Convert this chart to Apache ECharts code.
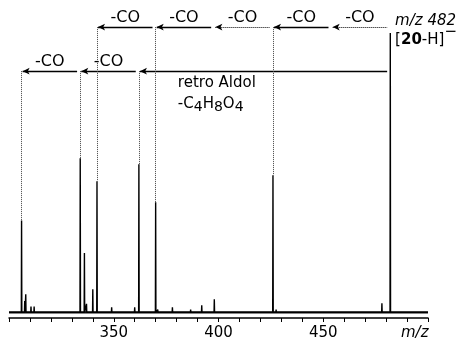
<!DOCTYPE html>
<html>
<head>
<meta charset="utf-8">
<script src="https://cdn.jsdelivr.net/npm/echarts@6/dist/echarts.min.js"></script>
<style>
  html, body { margin: 0; padding: 0; background: #fff; }
  #chart { width: 463px; height: 343px; }
</style>
</head>
<body>
<div id="chart"></div>
<script>
// m/z range and labelled ticks
const mzRange = [300, 500];
const xTickLabels = [350, 400, 450];

// main fragment peaks (relative intensity)
const peakMz = [306, 334, 336, 340, 342, 362, 370, 426, 482];
const peakInt = [32.6, 54.6, 21.0, 8.2, 46.5, 52.5, 39.0, 48.6, 99.0];

// small peaks along the baseline
const minorMz = [307.5, 308, 310.5, 312, 337, 349, 360, 371, 378, 386.7, 392, 398, 427.5, 478];
const minorInt = [4.0, 6.4, 2.1, 2.1, 3.0, 1.8, 1.8, 1.0, 1.8, 1.0, 2.5, 4.6, 1.0, 3.2];

// loss pathways: successive m/z joined by arrows
const coPath = [482, 454, 426, 398, 370, 342];
const coPathDotted = [true, false, true, false, false];
const coPathDrops = [426, 370, 342];
const aldolPath = [482, 362, 334, 306];
const aldolPathLabels = ['', '-CO', '-CO'];
const aldolPathDrops = [362, 334, 306];

const FONT = '"DejaVu Sans", sans-serif';
const row1 = 101.1;
const row2 = 85.5;

const intAt = m => peakInt[peakMz.indexOf(m)];

// stick spectrum built as one polyline
const sticks = peakMz.map((m, i) => [m, peakInt[i]])
  .concat(minorMz.map((m, i) => [m, minorInt[i]]))
  .sort((a, b) => a[0] - b[0]);
const spectrum = [[mzRange[0], 0]];
sticks.forEach(([m, h]) => {
  spectrum.push([m - 0.12, 0], [m, h], [m + 0.12, 0]);
});
spectrum.push([mzRange[1], 0]);

function arrow(from, to, level, dotted, label) {
  return [
    {
      coord: [to + 0.5, level],
      symbol: 'arrow',
      lineStyle: { type: dotted ? 'dotted' : 'solid', width: dotted ? 1 : 1.3 },
      label: { show: !!label, formatter: label || '' }
    },
    { coord: [from - 1.5, level], symbol: 'none' }
  ];
}

function drop(m, level) {
  return [
    { coord: [m, level], symbol: 'none', lineStyle: { type: 'dotted', width: 1, color: '#444' }, label: { show: false } },
    { coord: [m, intAt(m)], symbol: 'none' }
  ];
}

const markLines = [];
for (let i = 0; i < coPath.length - 1; i++) {
  markLines.push(arrow(coPath[i], coPath[i + 1], row1, coPathDotted[i], '-CO'));
}
for (let i = 0; i < aldolPath.length - 1; i++) {
  markLines.push(arrow(aldolPath[i], aldolPath[i + 1], row2, false, aldolPathLabels[i]));
}
coPathDrops.forEach(m => markLines.push(drop(m, row1)));
aldolPathDrops.forEach(m => markLines.push(drop(m, row2)));

function note(coord, formatter, extra) {
  return {
    coord: coord,
    symbolSize: 0,
    label: Object.assign({
      show: true,
      position: 'right',
      distance: 0,
      formatter: formatter,
      color: '#000',
      fontSize: 15,
      fontFamily: FONT
    }, extra || {})
  };
}

const notes = [
  note([380.6, 81.3], 'retro Aldol'),
  note([380.6, 73.8], '{n|-C}{s|4}{n|H}{s|8}{n|O}{s|4}', {
    rich: {
      n: { fontSize: 15, fontFamily: FONT, color: '#000' },
      s: { fontSize: 14, fontFamily: FONT, color: '#000', padding: [7, 0, 0, 0] }
    }
  }),
  note([484.3, 103.3], 'm/z 482', { fontStyle: 'italic' }),
  note([484.3, 96.5], '[{b|20}-H]{sup|−}', {
    rich: {
      b: { fontSize: 15, fontWeight: 'bold', fontFamily: FONT, color: '#000' },
      sup: { fontSize: 15, fontFamily: FONT, color: '#000', padding: [0, 0, 16, 0] }
    }
  })
];

const chart = echarts.init(document.getElementById('chart'), null, { renderer: 'canvas' });
chart.setOption({
  animation: false,
  backgroundColor: '#fff',
  grid: { left: 9, right: 35, top: 2, bottom: 25, containLabel: false, outerBoundsMode: 'none' },
  xAxis: {
    type: 'value',
    min: mzRange[0],
    max: mzRange[1],
    interval: 10,
    splitLine: { show: false },
    axisLine: { onZero: false, lineStyle: { color: '#000', width: 1.5 } },
    axisTick: { length: 4, lineStyle: { color: '#000', width: 1 } },
    axisLabel: {
      margin: 8,
      color: '#000',
      fontSize: 15,
      fontFamily: FONT,
      formatter: v => (xTickLabels.includes(v) ? String(v) : '')
    },
    name: 'm/z',
    nameLocation: 'end',
    nameGap: -27,
    nameTextStyle: {
      color: '#000', fontSize: 15, fontStyle: 'italic', fontFamily: FONT,
      verticalAlign: 'top', lineHeight: 17, padding: [7, 0, 0, 0]
    }
  },
  yAxis: { type: 'value', min: -2, max: 110, show: false },
  series: [
    {
      name: 'baseline',
      type: 'line',
      data: [[mzRange[0], 0], [mzRange[1], 0]],
      symbol: 'none',
      lineStyle: { color: '#111', width: 2.2 },
      silent: true
    },
    {
      name: 'spectrum',
      type: 'line',
      data: spectrum,
      symbol: 'none',
      lineStyle: { color: '#000', width: 1.4 },
      silent: true,
      markLine: {
        silent: true,
        symbolSize: [5, 7],
        lineStyle: { color: '#000' },
        label: {
          position: 'insideMiddleTop',
          distance: 1,
          color: '#000',
          fontSize: 16,
          fontFamily: FONT
        },
        data: markLines
      },
      markPoint: {
        silent: true,
        symbol: 'circle',
        data: notes
      }
    }
  ]
});
</script>
</body>
</html>
